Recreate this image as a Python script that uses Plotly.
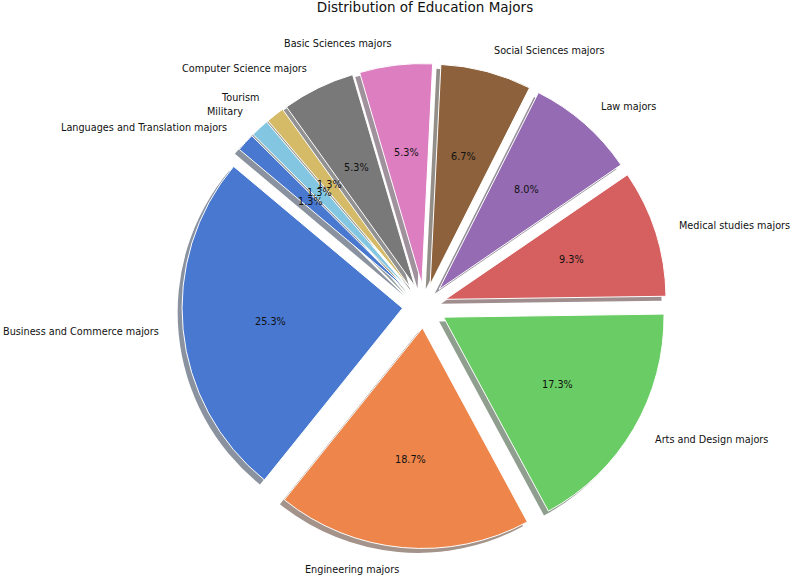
import math
import plotly.graph_objects as go

# ---- data ----
categories = [
    "Business and Commerce majors", "Engineering majors", "Arts and Design majors",
    "Medical studies majors", "Law majors", "Social Sciences majors",
    "Basic Sciences majors", "Computer Science majors", "Tourism", "Military",
    "Languages and Translation majors",
]
counts = [19, 14, 13, 7, 6, 5, 4, 4, 1, 1, 1]
colors = ["#4878d0", "#ee854a", "#6acc64", "#d65f5f", "#956cb4", "#8c613c",
          "#dc7ec0", "#797979", "#d5bb67", "#82c6e2", "#4878d0"]
title_text = "Distribution of Education Majors"

# ---- layout constants ----
W, H = 798, 585
CX, CY, R = 424.5, 306.0, 220.5   # pie centre / radius in pixels
EXPLODE = 0.1
START = 140.0                      # start angle (deg, counter-clockwise from 3 o'clock)
SH = 0.02 * R                      # shadow offset
FONT = "DejaVu Sans"
FS = 9.7

total = sum(counts)
# plotly (counterclockwise): first slice spans clockwise-angles [rot, rot+v1]
ROTATION = 90 - START - 360.0 * counts[0] / total


def shadow_color(hexc):
    h = hexc.lstrip("#")
    r, g, b = (int(h[i:i + 2], 16) for i in (0, 2, 4))
    f = lambda c: int(round(127.5 + 0.15 * c))
    return f"rgb({f(r)},{f(g)},{f(b)})"


def domain(cx, cy):
    half = R * (1 + EXPLODE)
    return dict(x=[(cx - half) / W, (cx + half) / W],
                y=[1 - (cy + half) / H, 1 - (cy - half) / H])


common = dict(labels=categories, values=counts, sort=False,
              direction="counterclockwise", rotation=ROTATION,
              pull=[EXPLODE] * len(counts), textinfo="none",
              hoverinfo="label+percent", showlegend=False)

fig = go.Figure()
fig.add_trace(go.Pie(**common, domain=domain(CX - SH, CY + SH),
                     marker=dict(colors=[shadow_color(c) for c in colors],
                                 line=dict(width=0))))
fig.add_trace(go.Pie(**common, domain=domain(CX, CY),
                     marker=dict(colors=colors, line=dict(color="white", width=1))))

# ---- labels and percentages, placed like matplotlib ----
annotations = []
theta = START
for name, v in zip(categories, counts):
    span = 360.0 * v / total
    mid = math.radians(theta + span / 2)
    theta += span
    cx = CX + EXPLODE * R * math.cos(mid)
    cy = CY - EXPLODE * R * math.sin(mid)
    # category label at 1.1 r
    lx = cx + 1.1 * R * math.cos(mid)
    ly = cy - 1.1 * R * math.sin(mid)
    annotations.append(dict(
        x=lx / W, y=1 - ly / H, xref="paper", yref="paper", text=name,
        showarrow=False, xanchor="left" if math.cos(mid) > 0 else "right",
        yanchor="middle", font=dict(family=FONT, size=FS, color="#111")))
    # percentage at 0.6 r
    px = cx + 0.6 * R * math.cos(mid)
    py = cy - 0.6 * R * math.sin(mid)
    annotations.append(dict(
        x=px / W, y=1 - py / H, xref="paper", yref="paper",
        text=f"{100 * v / total:.1f}%", showarrow=False,
        xanchor="center", yanchor="middle",
        font=dict(family=FONT, size=FS, color="#111")))

fig.update_layout(
    width=W, height=H,
    margin=dict(l=0, r=0, t=0, b=0),
    paper_bgcolor="white", plot_bgcolor="white",
    title=dict(text=title_text, x=425 / W, xanchor="center",
               y=1 - 7 / H, yanchor="middle", yref="container",
               font=dict(family=FONT, size=13.5, color="#111")),
    annotations=annotations,
)

fig.write_html("out.html")
